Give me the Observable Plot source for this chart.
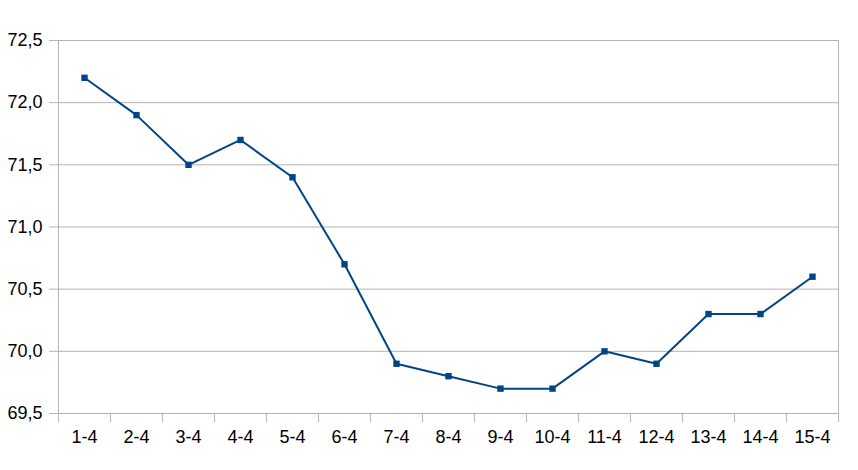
<!DOCTYPE html>
<html>
<head>
<meta charset="utf-8">
<script src="https://cdn.jsdelivr.net/npm/d3@7"></script>
<script src="https://cdn.jsdelivr.net/npm/@observablehq/plot@0.6"></script>
<style>
  html, body { margin: 0; padding: 0; background: #ffffff; }
</style>
</head>
<body>
<div id="chart"></div>
<script>
const categories = ["1-4", "2-4", "3-4", "4-4", "5-4", "6-4", "7-4", "8-4", "9-4", "10-4", "11-4", "12-4", "13-4", "14-4", "15-4"];
const values = [72.2, 71.9, 71.5, 71.7, 71.4, 70.7, 69.9, 69.8, 69.7, 69.7, 70.0, 69.9, 70.3, 70.3, 70.6];
const yTicks = [69.5, 70.0, 70.5, 71.0, 71.5, 72.0, 72.5];

const data = categories.map((c, i) => ({cat: c, value: values[i]}));

const W = 858, H = 470;
const mL = 57, mR = 20, mT = 40, mB = 57;
const step = (W - mL - mR) / categories.length;
const plotH = H - mT - mB;
const gridColor = "#b3b3b3";
const lineColor = "#004586";

const chart = Plot.plot({
  width: W,
  height: H,
  marginLeft: mL,
  marginRight: mR,
  marginTop: mT,
  marginBottom: mB,
  style: {
    fontFamily: "'Liberation Sans', Arial, sans-serif",
    fontSize: "18px",
    color: "#000000",
    background: "#ffffff"
  },
  x: {
    type: "point",
    domain: categories,
    padding: 0.5,
    align: 0.5,
    tickSize: 0,
    tickPadding: 17,
    label: null
  },
  y: {
    domain: [69.5, 72.5],
    ticks: yTicks,
    tickFormat: d => d.toFixed(1).replace(".", ","),
    tickSize: 0,
    tickPadding: 15,
    label: null
  },
  marks: [
    Plot.ruleY(yTicks, {stroke: gridColor, strokeWidth: 1, insetLeft: -8}),
    Plot.ruleX([categories[0]], {x: d => d, dx: -step / 2, stroke: gridColor, insetBottom: -9}),
    Plot.ruleX([categories[categories.length - 1]], {x: d => d, dx: step / 2, stroke: gridColor, insetBottom: -9}),
    Plot.ruleX(categories.slice(1), {x: d => d, dx: -step / 2, stroke: gridColor, insetTop: plotH, insetBottom: -9}),
    Plot.line(data, {x: "cat", y: "value", stroke: lineColor, strokeWidth: 2}),
    Plot.dot(data, {x: "cat", y: "value", symbol: "square", r: 3.6, fill: lineColor, stroke: "none"})
  ]
});

document.getElementById("chart").appendChild(chart);
</script>
</body>
</html>
